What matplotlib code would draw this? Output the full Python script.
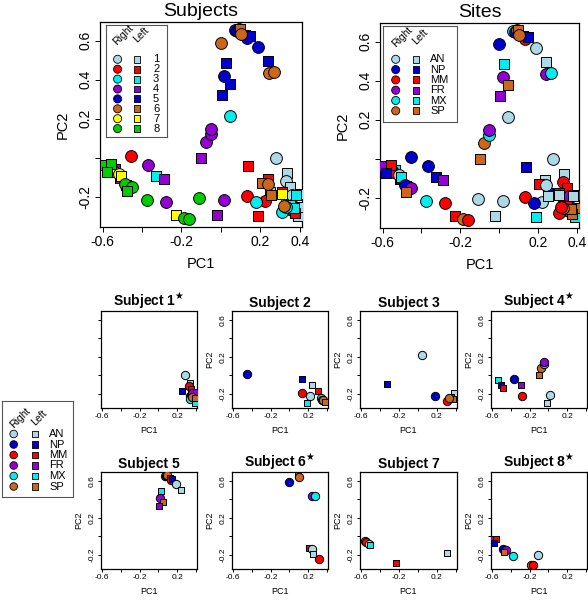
import numpy as np
import matplotlib
matplotlib.use('Agg')
import matplotlib.pyplot as plt

plt.rcParams['font.family'] = ['Liberation Sans', 'DejaVu Sans']
plt.rcParams['mathtext.fontset'] = 'dejavusans'

W, H = 588, 600

sites = ['AN', 'NP', 'MM', 'FR', 'MX', 'SP']
site_colors = ['#ADD8E6', '#0000CD', '#FF0000', '#9400D3', '#00EEEE', '#CD661D']
subjects = [1, 2, 3, 4, 5, 6, 7, 8]
subject_colors = ['#ADD8E6', '#FF0000', '#00EEEE', '#9400D3', '#0000CD', '#CD661D', '#FFFF00', '#00CD00']
starred = [1, 4, 6, 8]

# one row per sample: subject, site, side (R = right, L = left), PC1, PC2
subj = [1] * 12 + [2] * 11 + [3] * 8 + [4] * 12 + [5] * 12 + [6] * 9 + [7] * 6 + [8] * 10
site = ['AN', 'AN', 'MM', 'MM', 'NP', 'NP', 'FR', 'FR', 'MX', 'MX', 'SP', 'SP',
        'NP', 'NP', 'AN', 'MM', 'MM', 'AN', 'MX', 'MX', 'FR', 'SP', 'SP',
        'AN', 'NP', 'NP', 'AN', 'MM', 'MM', 'SP', 'SP',
        'MX', 'NP', 'MM', 'NP', 'FR', 'MM', 'SP', 'SP', 'MX', 'FR', 'AN', 'AN',
        'MX', 'NP', 'SP', 'MM', 'MM', 'NP', 'AN', 'AN', 'MX', 'FR', 'SP', 'FR',
        'SP', 'SP', 'NP', 'FR', 'MX', 'MM', 'AN', 'AN', 'MM',
        'SP', 'MM', 'AN', 'MX', 'MM', 'AN',
        'FR', 'MM', 'NP', 'NP', 'FR', 'SP', 'MX', 'AN', 'SP', 'MM']
side = ['R', 'L', 'R', 'L', 'L', 'R', 'R', 'L', 'R', 'L', 'R', 'L',
        'R', 'L', 'L', 'L', 'R', 'R', 'L', 'R', 'R', 'R', 'L',
        'R', 'L', 'R', 'L', 'R', 'L', 'L', 'R',
        'L', 'L', 'L', 'R', 'L', 'R', 'L', 'R', 'R', 'R', 'R', 'L',
        'R', 'R', 'R', 'L', 'R', 'L', 'R', 'L', 'L', 'R', 'L', 'L',
        'L', 'R', 'R', 'R', 'R', 'L', 'R', 'L', 'R',
        'R', 'R', 'R', 'L', 'L', 'L',
        'L', 'L', 'L', 'R', 'R', 'L', 'R', 'R', 'R', 'R']
pc1 = [0.28, 0.335, 0.33, 0.35, 0.25, 0.335, 0.36, 0.40, 0.34, 0.39, 0.36, 0.395,
       -0.455, 0.138, 0.237, 0.31, 0.135, 0.222, 0.19, 0.335, 0.35, 0.36, 0.375,
       0.047, -0.327, 0.18, 0.382, 0.31, 0.35, 0.37, 0.33,
       -0.538, -0.509, -0.48, -0.367, -0.288, -0.278, -0.099, -0.077, -0.052, -0.05, 0.018, -0.019,
       0.074, 0.082, 0.094, 0.125, 0.134, 0.148, 0.19, 0.242, 0.025, 0.018, 0.048, 0.004,
       0.097, 0.105, 0.0, 0.243, 0.268, 0.208, 0.24, 0.253, 0.32,
       -0.556, -0.547, -0.515, -0.505, -0.229, 0.31,
       -0.59, -0.556, -0.58, -0.484, -0.452, -0.478, -0.375, -0.109, -0.186, -0.16]
pc2 = [0.0, -0.08, -0.12, -0.15, -0.175, -0.22, -0.19, -0.185, -0.26, -0.30, -0.24, -0.25,
       0.01, -0.043, -0.11, -0.175, -0.194, -0.223, -0.297, -0.25, -0.265, -0.27, -0.285,
       0.215, -0.092, -0.229, -0.19, -0.28, -0.24, -0.26, -0.25,
       -0.056, -0.103, -0.138, -0.037, -0.111, -0.229, -0.001, 0.081, 0.122, 0.148, -0.215, -0.296,
       0.656, 0.652, 0.66, 0.63, 0.614, 0.625, 0.569, 0.497, 0.485, 0.417, 0.376, 0.324,
       0.662, 0.637, 0.588, 0.436, 0.438, -0.13, -0.135, -0.19, -0.245,
       -0.052, -0.066, -0.083, -0.093, -0.295, -0.185,
       -0.035, -0.032, -0.075, -0.135, -0.152, -0.168, -0.215, -0.207, -0.31, -0.315]

subj = np.array(subj)
pc1 = np.array(pc1)
pc2 = np.array(pc2)

XLIM = (-0.613, 0.412)
YLIM = (-0.355, 0.696)


def px_axes(fig, x0, y0, x1, y1):
    # pixel box (top-left origin) -> figure axes
    return fig.add_axes([x0 / W, 1 - y1 / H, (x1 - x0) / W, (y1 - y0) / H])


def style_axes(ax, big, ylabels=True):
    ax.set_xlim(*XLIM)
    ax.set_ylim(*YLIM)
    ax.set_xticks(np.arange(-0.6, 0.41, 0.2))
    ax.set_yticks(np.arange(-0.2, 0.61, 0.2))
    if big:
        ax.set_xticklabels(['-0.6', '', '-0.2', '', '0.2', '0.4'])
        ax.set_yticklabels(['-0.2', '', '0.2', '0.4', '0.6'])
        fs, tl, pad, lab, lpad = 10, 3.6, 2, 10.5, 6
    else:
        ax.set_xticklabels(['-0.6', '', '-0.2', '', '0.2', ''])
        ax.set_yticklabels(['-0.2', '', '0.2', '', '0.6'])
        fs, tl, pad, lab, lpad = 6, 2.2, 1.5, 6.5, 4
    ax.tick_params(length=tl, width=0.7, pad=pad, labelsize=fs, direction='out')
    plt.setp(ax.get_yticklabels(), rotation=90, va='center')
    ax.set_xlabel('PC1', fontsize=lab, labelpad=lpad)
    if ylabels:
        ax.set_ylabel('PC2', fontsize=lab, labelpad=lpad)
    else:
        ax.tick_params(axis='y', labelleft=False)
    for sp in ax.spines.values():
        sp.set_linewidth(0.9)


def draw_points(ax, mask, colors, s_c, s_s):
    for i in np.where(mask)[0]:
        mk = 'o' if side[i] == 'R' else 's'
        ax.scatter(pc1[i], pc2[i], s=s_c if mk == 'o' else s_s, marker=mk,
                   c=colors[i], edgecolors='black', linewidths=0.7, zorder=3)


def draw_key(fig, box, labels, colors, first, step, xc, xs, xl, head, fs, s_c, s_s):
    x0, y0, x1, y1 = box
    k = px_axes(fig, x0, y0, x1, y1)
    k.set_xlim(0, x1 - x0)
    k.set_ylim(y1 - y0, 0)
    k.set_xticks([])
    k.set_yticks([])
    for sp in k.spines.values():
        sp.set_linewidth(0.8)
        sp.set_color('#555555')
    ys = first + step * np.arange(len(labels))
    k.scatter(np.full(len(ys), xc), ys, s=s_c, marker='o', c=colors,
              edgecolors='black', linewidths=0.6, clip_on=False)
    k.scatter(np.full(len(ys), xs), ys, s=s_s, marker='s', c=colors,
              edgecolors='black', linewidths=0.6, clip_on=False)
    for y, t in zip(ys, labels):
        k.text(xl, y, str(t), fontsize=fs, va='center', ha='left')
    k.text(xc + 6, head, 'Right', fontsize=fs - 0.5, rotation=45, ha='center', va='center')
    k.text(xs + 4, head, 'Left', fontsize=fs - 0.5, rotation=45, ha='center', va='center')


fig = plt.figure(figsize=(W / 100, H / 100), dpi=100)

site_col = dict(zip(sites, site_colors))
subj_col = dict(zip(subjects, subject_colors))
by_site = [site_col[s] for s in site]
by_subj = [subj_col[s] for s in subj]
everyone = np.ones(len(subj), dtype=bool)

# top row
ax = px_axes(fig, 100, 22, 302, 227)
style_axes(ax, True)
draw_points(ax, everyone, by_subj, 72, 50)
ax.set_title('Subjects', fontsize=14, pad=4)
draw_key(fig, (106, 25, 167, 137), subjects, subject_colors,
         34.3, 9.9, 11.6, 31, 47, 10, 8, 34, 24)

ax = px_axes(fig, 380, 23, 579, 228)
style_axes(ax, True)
draw_points(ax, everyone, by_site, 72, 50)
ax.set_title('Sites', fontsize=14, pad=4)
draw_key(fig, (383, 26, 457, 122), sites, site_colors,
         33.3, 10.3, 12.7, 33, 47, 11, 8, 34, 24)

# small multiples, one per subject
cols = [(101, 197), (232, 328), (360, 457), (491, 587)]
rows = [(311, 408), (472, 569)]
for n, sj in enumerate(subjects):
    x0, x1 = cols[n % 4]
    y0, y1 = rows[n // 4]
    ax = px_axes(fig, x0, y0, x1, y1)
    style_axes(ax, False, ylabels=(n != 0))
    draw_points(ax, subj == sj, by_site, 36, 24)
    title = f'Subject {sj}'
    if sj in starred:
        title += r'$^{\bigstar}$'
    ax.set_title(title, fontsize=10, fontweight='bold', pad=3)

draw_key(fig, (2, 401, 73, 497), sites, site_colors,
         33, 10.5, 11.7, 33, 47, 17, 8, 30, 21)

fig.savefig('out.png', dpi=100)
